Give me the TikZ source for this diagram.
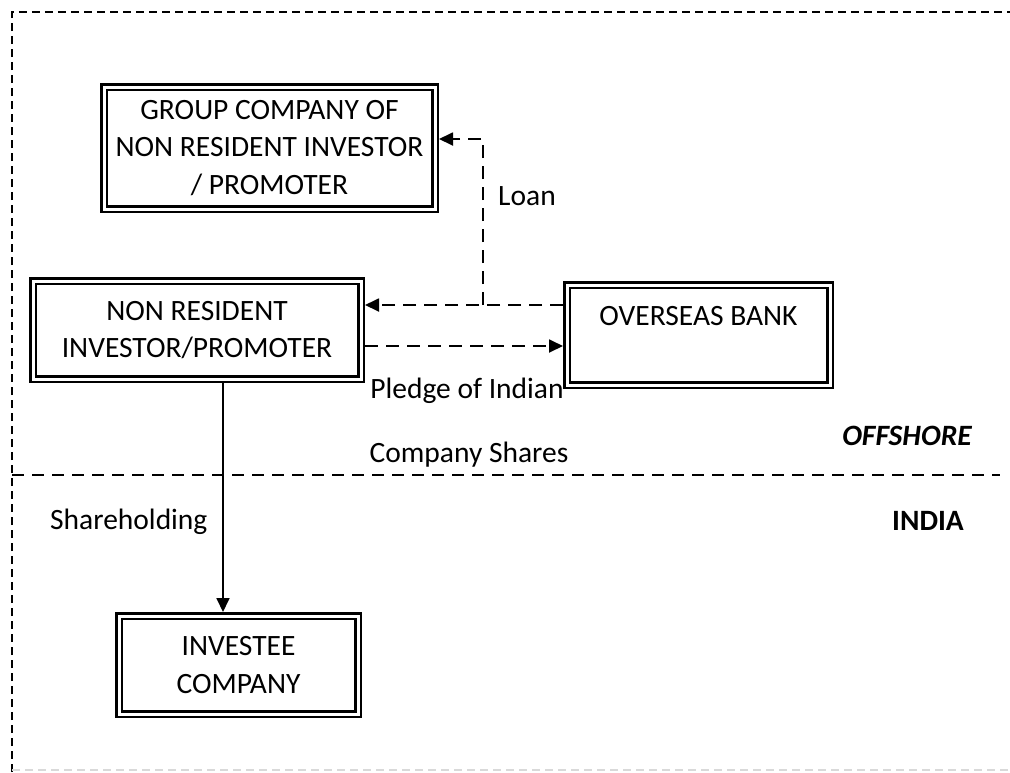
\documentclass[tikz,border=0pt]{standalone}
\usepackage{fontspec}
\setmainfont{Carlito}
\usetikzlibrary{positioning,arrows.meta}

\begin{document}
\begin{tikzpicture}[x=1pt,y=-1pt,font=\fontsize{29.5}{37.5}\selectfont,
  box/.style={draw,double=white,double distance=3pt,line width=2.5pt,align=center,inner sep=0pt,outer sep=4pt},
  link/.style={-{Triangle[length=14pt,width=13pt]},line width=1.8pt},
  dashlink/.style={link,dash pattern=on 13pt off 8pt},
  lbl/.style={inner sep=0pt}]
\useasboundingbox (0,0) rectangle (1010,772);
% frame and divider
\draw[line width=1.4pt,dash pattern=on 8pt off 5pt] (12,772) -- (12,12) -- (1012,12);
\draw[line width=1.4pt,black!15,dash pattern=on 8pt off 5pt] (12,770) -- (1010,770);
\draw[line width=1.6pt,dash pattern=on 12pt off 8pt] (12,475) -- (1000,475);
% boxes
\node[box,minimum width=331pt,minimum height=122pt] (grp) at (269.5,148) {GROUP COMPANY OF\\NON RESIDENT INVESTOR\\/ PROMOTER};
\node[box,minimum width=328pt,minimum height=98pt] (nri) at (197,330) {NON RESIDENT\\INVESTOR/PROMOTER};
\node[box,minimum width=263pt,minimum height=100pt] (bank) at (698.5,335) {OVERSEAS BANK\\\mbox{}};
\node[box,minimum width=239pt,minimum height=98pt] (inv) at (238.5,665) {INVESTEE\\COMPANY};
% connectors
\coordinate (fork) at (483,305);
\coordinate (loanend) at ([yshift=9pt]grp.east);
\draw[dashlink] ([yshift=30pt]bank.west) -- ([yshift=30pt]bank.west -| nri.east);
\draw[dashlink] (fork) -- (fork |- loanend) -- (loanend);
\draw[dashlink] ([yshift=-16pt]nri.east) -- ([yshift=-16pt]nri.east -| bank.west);
\draw[link] ([xshift=26pt]nri.south) -- ([xshift=26pt]nri.south |- inv.north);
% labels
\node[lbl,anchor=west] (loan) at (498,196) {Loan};
\node[lbl] (pledge) at (467,391) {Pledge of Indian};
\node[lbl] (shares) at (469,455) {Company Shares};
\node[lbl,anchor=west] (hold) at (50,522) {Shareholding};
\node[lbl,anchor=east,font=\fontsize{29.5}{37.5}\selectfont\bfseries\itshape] (off) at (972,436) {OFFSHORE};
\node[lbl,font=\fontsize{29.5}{37.5}\selectfont\bfseries] (ind) at (928,521) {INDIA};
\end{tikzpicture}
\end{document}
